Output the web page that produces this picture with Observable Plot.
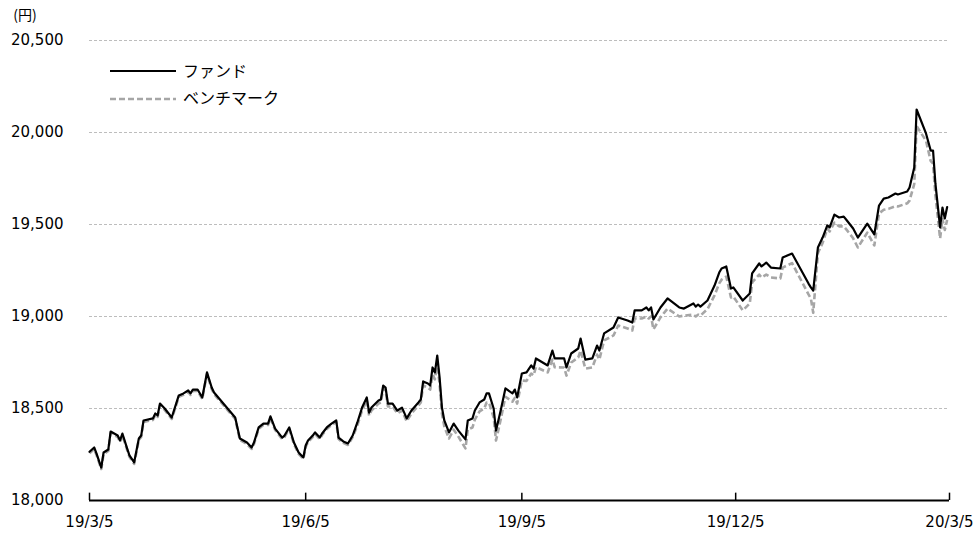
<!DOCTYPE html>
<html>
<head>
<meta charset="utf-8">
<script src="https://cdn.jsdelivr.net/npm/d3@7"></script>
<script src="https://cdn.jsdelivr.net/npm/@observablehq/plot@0.6"></script>
<style>
  html, body { margin: 0; padding: 0; background: #fff; }
  #chart { width: 976px; height: 535px; }
</style>
</head>
<body>
<div id="chart"></div>
<script>
const dates = [
"2019-03-05","2019-03-07","2019-03-08","2019-03-10","2019-03-11","2019-03-13","2019-03-14","2019-03-17","2019-03-18","2019-03-19",
"2019-03-21","2019-03-22","2019-03-24","2019-03-26","2019-03-27","2019-03-28","2019-04-01","2019-04-02","2019-04-03","2019-04-04",
"2019-04-06","2019-04-09","2019-04-12","2019-04-14","2019-04-16","2019-04-17","2019-04-18","2019-04-20","2019-04-22","2019-04-24",
"2019-04-26","2019-04-27","2019-05-06","2019-05-08","2019-05-11","2019-05-13","2019-05-14","2019-05-16","2019-05-18","2019-05-20",
"2019-05-21","2019-05-23","2019-05-26","2019-05-27","2019-05-29","2019-05-31","2019-06-02","2019-06-04","2019-06-05","2019-06-06",
"2019-06-08","2019-06-09","2019-06-11","2019-06-12","2019-06-14","2019-06-16","2019-06-18","2019-06-19","2019-06-21","2019-06-23",
"2019-06-25","2019-06-27","2019-06-29","2019-07-01","2019-07-02","2019-07-03","2019-07-06","2019-07-07","2019-07-08","2019-07-09",
"2019-07-10","2019-07-12","2019-07-14","2019-07-16","2019-07-18","2019-07-20","2019-07-23","2019-07-24","2019-07-25","2019-07-27",
"2019-07-28","2019-07-29","2019-07-30","2019-07-31","2019-08-01","2019-08-02","2019-08-03","2019-08-05","2019-08-07","2019-08-09",
"2019-08-12","2019-08-13","2019-08-15","2019-08-16","2019-08-18","2019-08-20","2019-08-21","2019-08-22","2019-08-24","2019-08-25",
"2019-08-27","2019-08-29","2019-09-01","2019-09-02","2019-09-03","2019-09-05","2019-09-07","2019-09-09","2019-09-10","2019-09-11",
"2019-09-16","2019-09-18","2019-09-19","2019-09-23","2019-09-24","2019-09-26","2019-09-29","2019-09-30","2019-10-02","2019-10-05",
"2019-10-07","2019-10-08","2019-10-10","2019-10-14","2019-10-16","2019-10-20","2019-10-22","2019-10-23","2019-10-26","2019-10-28",
"2019-10-29","2019-10-30","2019-10-31","2019-11-03","2019-11-06","2019-11-11","2019-11-13","2019-11-17","2019-11-18","2019-11-19",
"2019-11-20","2019-11-23","2019-11-26","2019-11-28","2019-11-29","2019-12-01","2019-12-03","2019-12-04","2019-12-08","2019-12-11",
"2019-12-12","2019-12-15","2019-12-16","2019-12-18","2019-12-20","2019-12-24","2019-12-25","2019-12-29","2020-01-05","2020-01-06",
"2020-01-07","2020-01-09","2020-01-11","2020-01-13","2020-01-14","2020-01-16","2020-01-18","2020-01-20","2020-01-21","2020-01-24",
"2020-01-26","2020-01-30","2020-02-02","2020-02-04","2020-02-06","2020-02-08","2020-02-11","2020-02-12","2020-02-16","2020-02-17",
"2020-02-19","2020-02-20","2020-02-24","2020-02-26","2020-02-27","2020-02-28","2020-03-01","2020-03-02","2020-03-03","2020-03-04"
];
const fund = [
18265,18288,18255,18179,18261,18277,18375,18353,18326,18364,
18283,18245,18207,18337,18353,18435,18446,18473,18462,18527,
18500,18451,18571,18582,18598,18582,18603,18603,18560,18696,
18614,18587,18451,18337,18315,18288,18315,18397,18418,18418,
18457,18391,18342,18353,18397,18315,18261,18234,18299,18326,
18353,18370,18342,18364,18397,18418,18435,18342,18321,18310,
18353,18424,18505,18560,18478,18505,18543,18549,18625,18614,
18527,18527,18489,18505,18446,18489,18533,18549,18647,18636,
18625,18723,18696,18788,18668,18505,18435,18370,18418,18380,
18332,18435,18446,18489,18533,18549,18582,18582,18500,18380,
18489,18609,18582,18603,18560,18690,18696,18734,18717,18772,
18734,18815,18772,18772,18723,18799,18826,18880,18766,18772,
18842,18815,18908,18940,18995,18978,18967,19033,19033,19049,
19033,19049,18984,19049,19098,19049,19043,19071,19054,19065,
19054,19087,19168,19239,19261,19272,19152,19158,19087,19125,
19234,19288,19272,19293,19266,19261,19321,19342,19179,19158,
19141,19375,19429,19495,19484,19554,19538,19543,19527,19478,
19429,19505,19446,19603,19641,19647,19668,19663,19679,19701,
19810,20125,19995,19902,19902,19723,19484,19592,19533,19595
];
const bench = [
18257,18280,18247,18171,18253,18269,18367,18345,18318,18356,
18275,18237,18199,18329,18345,18427,18438,18465,18454,18519,
18492,18443,18563,18574,18590,18574,18595,18595,18552,18688,
18606,18579,18443,18329,18307,18280,18307,18389,18410,18410,
18449,18383,18334,18345,18389,18307,18253,18226,18291,18318,
18345,18362,18334,18356,18389,18410,18427,18334,18313,18302,
18345,18408,18489,18544,18462,18489,18527,18533,18609,18598,
18511,18511,18473,18489,18430,18473,18517,18533,18625,18614,
18603,18685,18658,18750,18630,18472,18402,18337,18385,18347,
18283,18386,18397,18440,18484,18500,18533,18533,18451,18326,
18440,18564,18537,18558,18527,18652,18650,18690,18680,18725,
18696,18766,18724,18723,18679,18750,18777,18815,18717,18723,
18793,18766,18870,18897,18951,18935,18924,18989,18989,19000,
18989,19000,18930,18995,19043,19000,19005,19010,19000,19010,
19005,19040,19115,19180,19200,19217,19103,19109,19033,19071,
19185,19228,19212,19228,19212,19207,19266,19290,19120,19098,
19020,19345,19400,19478,19462,19510,19490,19490,19475,19425,
19375,19456,19386,19560,19580,19585,19600,19598,19615,19630,
19720,20035,19955,19845,19830,19660,19424,19530,19470,19525
];
const xTickDates = ["2019-03-05","2019-06-05","2019-09-05","2019-12-05","2020-03-05"];
const xTickLabels = ["19/3/5","19/6/5","19/9/5","19/12/5","20/3/5"];
const yTicks = [18000, 18500, 19000, 19500, 20000, 20500];
const seriesNames = ["ファンド", "ベンチマーク"];
const unitLabel = "(円)";

const data = dates.map((d, i) => ({date: new Date(d), fund: fund[i], bench: bench[i]}));
const xTicks = xTickDates.map(d => new Date(d));
const labelOf = new Map(xTicks.map((d, i) => [+d, xTickLabels[i]]));

const font = "'DejaVu Sans', Verdana, sans-serif";

const chart = Plot.plot({
  width: 976,
  height: 535,
  marginLeft: 89,
  marginRight: 27,
  marginTop: 40,
  marginBottom: 35,
  style: {fontFamily: font, fontSize: "15px", color: "#000", background: "#fff"},
  x: {type: "utc", domain: [xTicks[0], xTicks[xTicks.length - 1]]},
  y: {domain: [18000, 20500]},
  marks: [
    Plot.gridY(yTicks.slice(1), {stroke: "#bdbdbd", strokeOpacity: 1, strokeDasharray: "3,2", strokeWidth: 1}),
    Plot.axisY(yTicks, {tickSize: 0, tickPadding: 26, tickFormat: d3.format(","), label: null, fontSize: 15, fill: "#000"}),
    Plot.axisX(xTicks, {tickSize: 0, tickPadding: 16, tickFormat: d => labelOf.get(+d), label: null, fontSize: 15, fill: "#000"}),
    Plot.lineY(data, {x: "date", y: "bench", stroke: "#a6a6a6", strokeWidth: 2.6, strokeDasharray: "6,3", strokeLinecap: "butt", strokeLinejoin: "round"}),
    Plot.lineY(data, {x: "date", y: "fund", stroke: "#000", strokeWidth: 2.2, strokeLinejoin: "round"}),
    Plot.ruleY([18000], {stroke: "#000", strokeWidth: 2}),
    Plot.ruleX(xTicks, {y1: 18000, y2: 18040, stroke: "#000", strokeWidth: 1.5})
  ]
});

document.getElementById("chart").appendChild(chart);

// legend and unit label
const svg = d3.select(chart);
const g = svg.append("g")
  .attr("font-family", "'Noto Sans CJK JP', sans-serif")
  .attr("text-anchor", "start")
  .style("font-size", "16px");
g.append("line").attr("x1", 110).attr("x2", 176).attr("y1", 71).attr("y2", 71)
  .attr("stroke", "#000").attr("stroke-width", 2.2);
g.append("text").attr("x", 183).attr("y", 71).attr("dy", "0.35em").attr("fill", "#000").text(seriesNames[0]);
g.append("line").attr("x1", 110).attr("x2", 176).attr("y1", 99).attr("y2", 99)
  .attr("stroke", "#a6a6a6").attr("stroke-width", 2.6).attr("stroke-dasharray", "6,3");
g.append("text").attr("x", 183).attr("y", 98).attr("dy", "0.35em").attr("fill", "#000").text(seriesNames[1]);
svg.append("text").attr("x", 25).attr("y", 15).attr("dy", "0.35em").attr("text-anchor", "middle")
  .attr("font-family", "'Noto Sans CJK JP', sans-serif").style("font-size", "14px").attr("fill", "#000").text(unitLabel);
</script>
</body>
</html>
